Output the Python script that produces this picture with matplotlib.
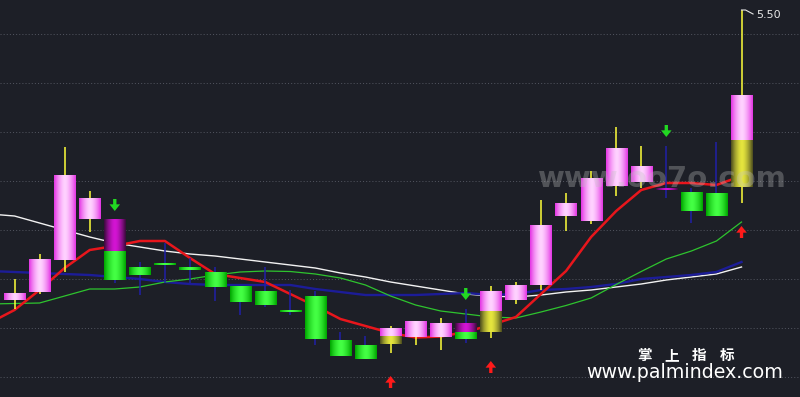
import numpy as np
import matplotlib
matplotlib.use("Agg")
import matplotlib.pyplot as plt

# ---------------- data ----------------
opens  = [4.920, 4.936, 5.000, 5.082, 5.080, 4.986, 4.992, 4.986, 4.976, 4.948,
          4.938, 4.898, 4.928, 4.840, 4.830, 4.832, 4.846, 4.846, 4.874, 4.856,
          4.920, 4.950, 5.088, 5.078, 5.148, 5.156, 5.143, 5.134, 5.134, 5.146]
highs  = [4.962, 5.012, 5.226, 5.138, 5.080, 4.996, 5.034, 5.004, 4.986, 4.948,
          4.986, 4.940, 4.938, 4.856, 4.848, 4.868, 4.878, 4.884, 4.902, 4.948,
          4.956, 5.120, 5.134, 5.178, 5.266, 5.228, 5.228, 5.144, 5.236, 5.500]
lows   = [4.902, 4.932, 4.976, 5.056, 4.954, 4.930, 4.954, 4.954, 4.918, 4.890,
          4.906, 4.890, 4.830, 4.808, 4.802, 4.814, 4.830, 4.820, 4.834, 4.844,
          4.912, 4.940, 5.058, 5.072, 5.128, 5.144, 5.124, 5.074, 5.088, 5.114]
closes = [4.932, 5.002, 5.168, 5.124, 4.960, 4.970, 4.990, 4.980, 4.946, 4.916,
          4.910, 4.896, 4.842, 4.808, 4.802, 4.864, 4.878, 4.874, 4.842, 4.938,
          4.948, 5.070, 5.114, 5.164, 5.222, 5.188, 5.141, 5.098, 5.088, 5.330]

# moving-average style lines (first value belongs to the bar before bar 1)
ma_white = [5.092, 5.088, 5.074, 5.060, 5.046, 5.034, 5.026, 5.018, 5.012, 5.008,
            5.002, 4.996, 4.990, 4.984, 4.974, 4.966, 4.956, 4.948, 4.940, 4.932,
            4.928, 4.926, 4.930, 4.936, 4.940, 4.946, 4.952, 4.960, 4.966, 4.972, 4.986]
ma_navy  = [4.978, 4.976, 4.974, 4.972, 4.970, 4.966, 4.962, 4.956, 4.952, 4.950,
            4.950, 4.950, 4.950, 4.942, 4.936, 4.930, 4.930, 4.930, 4.932, 4.934,
            4.930, 4.932, 4.940, 4.942, 4.946, 4.952, 4.962, 4.966, 4.970, 4.976, 4.996]
ma_green = [4.912, 4.913, 4.914, 4.928, 4.942, 4.942, 4.946, 4.956, 4.962, 4.970,
            4.976, 4.978, 4.977, 4.972, 4.964, 4.950, 4.928, 4.910, 4.898, 4.892,
            4.886, 4.884, 4.896, 4.909, 4.924, 4.951, 4.977, 5.002, 5.018, 5.038, 5.076]
ma_red   = [4.874, 4.900, 4.940, 4.984, 5.020, 5.028, 5.038, 5.038, 5.004, 4.972,
            4.964, 4.956, 4.932, 4.908, 4.882, 4.868, 4.854, 4.845, 4.847, 4.856,
            4.870, 4.886, 4.932, 4.978, 5.046, 5.098, 5.140, 5.154, 5.154, 5.150, 5.168]

sell_signals = [5, 19, 27]
sell_split   = [5.018, 4.856, 5.141]
buy_signals  = [16, 20, 30]
buy_split    = [4.848, 4.898, 5.240]

grid_levels = [5.452, 5.354, 5.256, 5.158, 5.060, 4.962, 4.864, 4.766]
peak_label = "5.50"
watermark = "www.oo7o.com"
brand_cn = "掌上指标"
brand_url = "www.palmindex.com"

# ---------------- style ----------------
BG = "#1d1f27"
PINK = ("#e436e4", "#ffd2ff")
GREEN = ("#00a600", "#44ff44")
YELLOW = ("#4e4e1e", "#e6e63e")
PURPLE = ("#3c0a3c", "#d414d4")
WICK_UP = "#ffff3a"
WICK_DN = "#2020a8"

fig = plt.figure(figsize=(8, 3.97), dpi=100)
fig.patch.set_facecolor(BG)
ax = fig.add_axes([0, 0, 1, 1])
ax.set_facecolor(BG)
for s in ax.spines.values():
    s.set_visible(False)
ax.set_xticks([])
ax.set_yticks([])

x_bars = np.arange(1, len(opens) + 1)
x_lines = np.arange(0, len(ma_white))
half_w = 0.42


def hex2rgb(h):
    h = h.lstrip("#")
    return np.array([int(h[i:i + 2], 16) / 255 for i in (0, 2, 4)])


def grad_body(x, y0, y1, cols, z=4):
    lo, hi = min(y0, y1), max(y0, y1)
    if hi - lo < 0.003:
        mid = (hi + lo) / 2
        lo, hi = mid - 0.0015, mid + 0.0015
    edge, center = hex2rgb(cols[0]), hex2rgb(cols[1])
    u = np.linspace(0, 1, 40)
    t = 1 - np.abs(2 * u - 1) ** 1.6
    img = edge[None, :] + (center - edge)[None, :] * t[:, None]
    img = img[None, :, :]
    ax.imshow(img, extent=[x - half_w, x + half_w, lo, hi], aspect="auto",
              interpolation="bilinear", zorder=z)


# grid
for lvl in grid_levels:
    ax.axhline(lvl, color="#4f525c", lw=0.75, linestyle=(0, (1, 2)), zorder=0)

# lines
ax.plot(x_lines, ma_white, color="#f2f2f2", lw=1.0, zorder=2)
ax.plot(x_lines, ma_navy, color="#1c1c98", lw=1.7, zorder=2)
ax.plot(x_lines, ma_green, color="#2ec42e", lw=0.9, zorder=2)
ax.plot(x_lines, ma_red, color="#e8161c", lw=1.8, zorder=2)

# candles
for i, (o, h, l, c) in enumerate(zip(opens, highs, lows, closes)):
    n = i + 1
    x = x_bars[i]
    up = c >= o
    ax.plot([x, x], [l, h], color=WICK_UP if up else WICK_DN, lw=1.1, zorder=3,
            solid_capstyle="butt")
    top, bot = max(o, c), min(o, c)
    if n in sell_signals:
        sp = sell_split[sell_signals.index(n)]
        if sp > bot:
            grad_body(x, bot, sp, GREEN)
        grad_body(x, sp, top, PURPLE)
    elif n in buy_signals:
        sp = buy_split[buy_signals.index(n)]
        grad_body(x, bot, sp, YELLOW)
        grad_body(x, sp, top, PINK)
    else:
        grad_body(x, bot, top, PINK if up else GREEN)

# signal arrows
arrow_len = 0.024
for n in sell_signals:
    x = x_bars[n - 1]
    tip = highs[n - 1] + 0.018
    ax.annotate("", xy=(x, tip), xytext=(x, tip + arrow_len),
                arrowprops=dict(arrowstyle="simple,head_length=0.6,head_width=0.95,tail_width=0.3",
                                color="#22d822", mutation_scale=8, shrinkA=0, shrinkB=0, lw=0),
                zorder=5)
for n in buy_signals:
    x = x_bars[n - 1]
    tip = lows[n - 1] - 0.046
    ax.annotate("", xy=(x, tip), xytext=(x, tip - arrow_len),
                arrowprops=dict(arrowstyle="simple,head_length=0.6,head_width=0.95,tail_width=0.3",
                                color="#ff1a1a", mutation_scale=8, shrinkA=0, shrinkB=0, lw=0),
                zorder=5)

# peak label
pk = int(np.argmax(highs))
xp, yp = x_bars[pk], highs[pk]
ax.plot([xp, xp + 0.16, xp + 0.46], [yp, yp, yp - 0.008], color="#e6e6e6", lw=0.8, zorder=6)
ax.text(xp + 0.58, yp - 0.010, peak_label, color="#e6e6e6", fontsize=8,
        ha="left", va="center", zorder=6)

ax.set_xlim(0.4216, 32.333)
ax.set_ylim(4.726, 5.52)

# watermarks / brand
fig.text(662 / 800, 1 - 179 / 397, watermark, color=(0.76, 0.76, 0.76, 0.32),
         fontsize=21, fontweight="bold", ha="center", va="center", zorder=10)
for k, ch in enumerate(brand_cn):
    fig.text((644 + 27.7 * k) / 800, 1 - 355 / 397, ch, color="white", fontsize=10.5,
             fontweight="bold", family=["Noto Sans CJK SC", "DejaVu Sans"],
             ha="center", va="center", zorder=10)
fig.text(685 / 800, 1 - 372 / 397, brand_url, color="white", fontsize=13.7,
         ha="center", va="center", zorder=10)

fig.savefig("out.png", dpi=100, facecolor=BG)
